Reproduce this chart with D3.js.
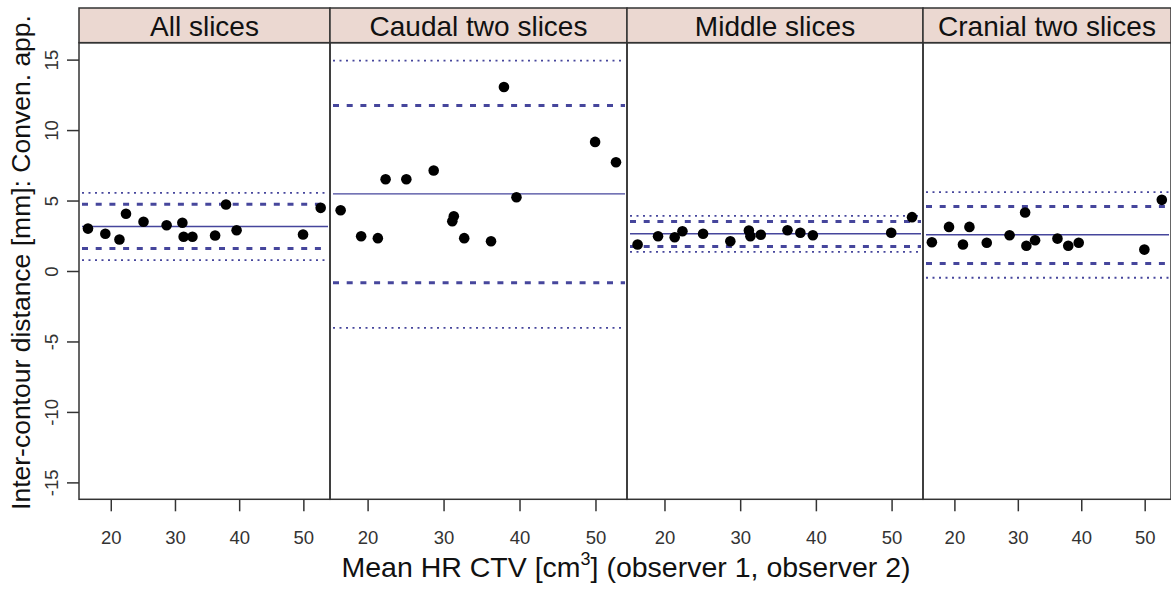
<!DOCTYPE html>
<html>
<head>
<meta charset="utf-8">
<script src="https://cdn.jsdelivr.net/npm/d3@7"></script>
<style>
  body { margin: 0; background: #fff; }
  svg { display: block; font-family: "Liberation Sans", Arial, sans-serif; }
</style>
</head>
<body>
<div id="container"></div>
<script>
// panel titles
const panels = ['All slices', 'Caudal two slices', 'Middle slices', 'Cranial two slices'];

// mean HR CTV per patient (shared by all panels)
const meanCTV = [16.45, 19.15, 21.35, 22.37, 25.1, 28.7, 31.15, 31.35, 32.72, 36.25, 37.95, 39.6, 49.95, 52.7];

// inter-contour distance per panel
const allSlices = [3.01, 2.64, 2.23, 4.06, 3.49, 3.25, 3.42, 2.43, 2.43, 2.52, 4.72, 2.89, 2.59, 4.48];
const caudal = [4.31, 2.47, 2.33, 6.51, 6.51, 7.13, 3.53, 3.89, 2.33, 2.11, 13.06, 5.23, 9.16, 7.72];
const middle = [1.88, 2.47, 2.4, 2.82, 2.64, 2.11, 2.87, 2.47, 2.57, 2.89, 2.71, 2.54, 2.71, 3.82];
const cranial = [2.04, 3.13, 1.88, 3.13, 2.0, 2.54, 4.15, 1.79, 2.18, 2.3, 1.79, 2.0, 1.52, 5.05];

// reference lines per panel
const meanLine = [3.16, 5.47, 2.64, 2.57];
const innerLo = [1.6, -0.84, 1.74, 0.53];
const innerHi = [4.74, 11.74, 3.51, 4.57];
const outerLo = [0.77, -4.03, 1.36, -0.48];
const outerHi = [5.55, 14.93, 3.91, 5.59];

const xTicks = [20, 30, 40, 50];
const yTicks = [-15, -10, -5, 0, 5, 10, 15];

const series = [allSlices, caudal, middle, cranial];

const w = 1171;
const h = 594;
const plotTop = 42.7;
const plotBottom = 499.3;
const stripTop = 8;
const edges = [79, 330, 627, 923, 1171];
const lineColor = '#46469c';
const frameColor = '#333';

const svg = d3
  .select('#container')
  .append('svg')
  .attr('width', w)
  .attr('height', h);

const yScale = d3.scaleLinear().domain([-16.2, 16.2]).range([plotBottom, plotTop]);

panels.forEach((name, i) => {
  const x0 = edges[i];
  const x1 = edges[i + 1];
  const xScale = d3.scaleLinear().domain([15.05, 54.15]).range([x0, x1]);
  const g = svg.append('g');

  // strip
  g.append('rect')
    .attr('x', x0)
    .attr('y', stripTop)
    .attr('width', x1 - x0)
    .attr('height', plotTop - stripTop)
    .attr('fill', '#ebd8d1')
    .attr('stroke', frameColor)
    .attr('stroke-width', 1.5);
  g.append('text')
    .attr('x', (x0 + x1) / 2)
    .attr('y', 36)
    .attr('text-anchor', 'middle')
    .attr('font-size', 28)
    .attr('fill', '#111')
    .text(name);

  // reference lines
  const refs = [
    { v: outerHi[i], dash: '2,4.5', width: 1.8 },
    { v: outerLo[i], dash: '2,4.5', width: 1.8 },
    { v: innerHi[i], dash: '6,7.7', width: 3 },
    { v: innerLo[i], dash: '6,7.7', width: 3 },
    { v: meanLine[i], dash: null, width: 1.4 }
  ];
  g.selectAll('line.ref')
    .data(refs)
    .enter()
    .append('line')
    .attr('class', 'ref')
    .attr('x1', x0 + 3)
    .attr('x2', x1 - 2)
    .attr('y1', d => yScale(d.v))
    .attr('y2', d => yScale(d.v))
    .attr('stroke', lineColor)
    .attr('stroke-width', d => d.width)
    .attr('stroke-dasharray', d => d.dash);

  // points
  g.selectAll('circle')
    .data(series[i])
    .enter()
    .append('circle')
    .attr('cx', (d, j) => xScale(meanCTV[j]))
    .attr('cy', d => yScale(d))
    .attr('r', 5.3)
    .attr('fill', '#000');

  // frame
  g.append('rect')
    .attr('x', x0)
    .attr('y', plotTop)
    .attr('width', x1 - x0)
    .attr('height', plotBottom - plotTop)
    .attr('fill', 'none')
    .attr('stroke', frameColor)
    .attr('stroke-width', 1.5);

  // x axis
  const xAxis = svg
    .append('g')
    .attr('transform', `translate(0,${plotBottom})`)
    .call(d3.axisBottom(xScale).tickValues(xTicks).tickSize(12).tickPadding(0));
  xAxis.select('.domain').remove();
  xAxis.selectAll('line').attr('stroke', frameColor).attr('stroke-width', 1.5);
  xAxis
    .selectAll('text')
    .attr('y', 45)
    .attr('dy', null)
    .attr('font-size', 18.5)
    .attr('fill', '#333')
    .attr('font-family', null);
});

// y axis
const yAxis = svg
  .append('g')
  .attr('transform', `translate(${edges[0]},0)`)
  .call(d3.axisLeft(yScale).tickValues(yTicks).tickSize(12).tickFormat(d => String(d)));
yAxis.select('.domain').remove();
yAxis.selectAll('line').attr('stroke', frameColor).attr('stroke-width', 1.5);
yAxis
  .selectAll('text')
  .attr('x', 0)
  .attr('dy', '0.35em')
  .attr('transform', 'translate(-27,0) rotate(-90)')
  .style('text-anchor', 'middle')
  .attr('font-size', 18.5)
  .attr('fill', '#333')
  .attr('font-family', null);

// axis titles
svg
  .append('text')
  .attr('transform', 'translate(30,262.5) rotate(-90)')
  .attr('text-anchor', 'middle')
  .attr('font-size', 26.5)
  .attr('fill', '#111')
  .text('Inter-contour distance [mm]: Conven. app.');

const xTitle = svg
  .append('text')
  .attr('x', 626)
  .attr('y', 577)
  .attr('text-anchor', 'middle')
  .attr('font-size', 28.5)
  .attr('fill', '#111');
xTitle.append('tspan').text('Mean HR CTV [cm');
xTitle.append('tspan').attr('dy', -12).attr('font-size', 18).text('3');
xTitle.append('tspan').attr('dy', 12).text('] (observer 1, observer 2)');
</script>
</body>
</html>
